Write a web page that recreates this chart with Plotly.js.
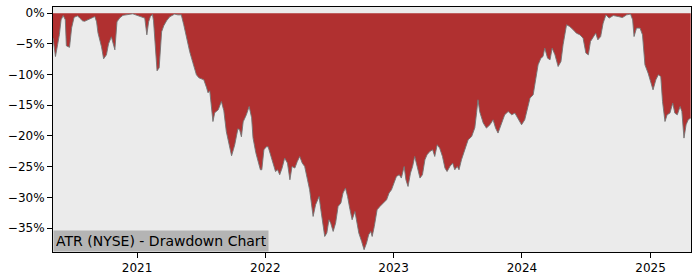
<!DOCTYPE html>
<html>
<head>
<meta charset="utf-8">
<script src="https://cdn.plot.ly/plotly-3.0.1.min.js"></script>
<style>html,body{margin:0;padding:0;background:#fff;}#chart{width:700px;height:280px;}</style>
</head>
<body>
<div id="chart"></div>
<script>
const dates = [
"2020-05-07","2020-05-14","2020-05-20","2020-05-25","2020-05-30","2020-06-05","2020-06-11","2020-06-14","2020-06-23","2020-06-29",
"2020-07-06","2020-07-16","2020-07-22","2020-07-30","2020-08-05","2020-08-14","2020-08-22","2020-09-03","2020-09-08","2020-09-12",
"2020-09-22","2020-09-28","2020-10-06","2020-10-12","2020-10-20","2020-10-24","2020-10-30","2020-11-05","2020-11-13","2020-11-22",
"2020-12-06","2020-12-20","2020-12-28","2021-01-09","2021-01-23","2021-01-29","2021-02-03","2021-02-08","2021-02-14","2021-02-17",
"2021-02-22","2021-02-27","2021-03-05","2021-03-08","2021-03-12","2021-03-18","2021-03-26","2021-04-04","2021-04-13","2021-04-18",
"2021-04-27","2021-05-07","2021-05-14","2021-05-20","2021-05-25","2021-05-31","2021-06-09","2021-06-14","2021-06-19","2021-06-26",
"2021-07-03","2021-07-10","2021-07-18","2021-07-22","2021-07-27","2021-08-01","2021-08-05","2021-08-10","2021-08-20","2021-08-29",
"2021-09-05","2021-09-12","2021-09-17","2021-09-21","2021-09-27","2021-10-02","2021-10-06","2021-10-15","2021-10-20","2021-10-25",
"2021-10-30","2021-11-08","2021-11-16","2021-11-23","2021-11-27","2021-12-05","2021-12-11","2021-12-18","2021-12-22","2021-12-28",
"2022-01-04","2022-01-09","2022-01-15","2022-01-23","2022-01-30","2022-02-05","2022-02-11","2022-02-18","2022-02-25","2022-03-05",
"2022-03-12","2022-03-18","2022-03-26","2022-04-02","2022-04-09","2022-04-16","2022-04-23","2022-05-01","2022-05-07","2022-05-12",
"2022-05-17","2022-05-24","2022-05-29","2022-06-03","2022-06-08","2022-06-14","2022-06-19","2022-06-25","2022-07-01","2022-07-06",
"2022-07-13","2022-07-20","2022-07-27","2022-08-04","2022-08-10","2022-08-17","2022-08-23","2022-08-29","2022-09-05","2022-09-13",
"2022-09-17","2022-09-24","2022-10-02","2022-10-09","2022-10-16","2022-10-22","2022-10-28","2022-11-01","2022-11-07","2022-11-15",
"2022-11-23","2022-12-02","2022-12-12","2022-12-19","2022-12-26","2023-01-02","2023-01-09","2023-01-17","2023-01-23","2023-01-31",
"2023-02-05","2023-02-11","2023-02-18","2023-02-24","2023-03-02","2023-03-09","2023-03-17","2023-03-24","2023-03-31","2023-04-06",
"2023-04-14","2023-04-22","2023-04-28","2023-05-05","2023-05-12","2023-05-20","2023-05-27","2023-06-02","2023-06-10","2023-06-18",
"2023-06-24","2023-07-01","2023-07-06","2023-07-13","2023-07-23","2023-08-01","2023-08-11","2023-08-20","2023-08-25","2023-08-29",
"2023-09-03","2023-09-08","2023-09-13","2023-09-22","2023-10-02","2023-10-11","2023-10-18","2023-10-25","2023-11-04","2023-11-13",
"2023-11-23","2023-12-03","2023-12-12","2023-12-21","2023-12-31","2024-01-09","2024-01-17","2024-01-24","2024-02-02","2024-02-09",
"2024-02-16","2024-02-24","2024-03-01","2024-03-06","2024-03-14","2024-03-21","2024-03-27","2024-04-04","2024-04-13","2024-04-21",
"2024-04-27","2024-05-07","2024-05-16","2024-05-26","2024-06-04","2024-06-14","2024-06-23","2024-07-01","2024-07-08","2024-07-14",
"2024-07-22","2024-07-29","2024-08-04","2024-08-12","2024-08-19","2024-08-27","2024-09-05","2024-09-17","2024-10-01","2024-10-13",
"2024-10-25","2024-11-05","2024-11-11","2024-11-15","2024-11-22","2024-12-02","2024-12-09","2024-12-16","2024-12-25","2025-01-01",
"2025-01-08","2025-01-16","2025-01-23","2025-01-30","2025-02-04","2025-02-11","2025-02-17","2025-02-25","2025-03-05","2025-03-11",
"2025-03-18","2025-03-26","2025-03-31","2025-04-06","2025-04-12","2025-04-18","2025-04-25"
];
const drawdownPct = [
-4.02,-7.07,-5.16,-3.53,-1.09,-0.39,-1.09,-5.32,-5.57,-2.39,
-0.68,-0.44,-0.81,-1.25,-1.33,-1.09,-0.85,-0.55,-1.42,-3.21,
-5.49,-7.44,-6.79,-5.00,-3.86,-4.67,-5.97,-1.42,-0.77,-0.36,
-0.20,-0.11,-0.28,-0.55,-0.81,-3.53,-1.42,-0.55,-0.20,-1.25,
-5.97,-9.39,-8.90,-5.97,-3.04,-2.07,-1.25,-0.60,-0.28,-0.16,
-0.28,-0.28,-1.90,-3.53,-5.16,-6.30,-8.09,-9.23,-10.04,-10.53,
-10.70,-10.86,-12.16,-12.97,-12.65,-14.93,-17.65,-16.23,-15.74,-14.39,
-15.90,-19.27,-20.63,-21.93,-23.23,-22.25,-21.44,-18.83,-19.00,-20.14,
-17.70,-16.56,-15.20,-17.04,-20.30,-22.74,-23.88,-25.51,-25.51,-22.25,
-21.76,-21.76,-22.90,-24.69,-25.79,-25.51,-26.32,-25.18,-23.60,-24.42,
-27.14,-24.97,-25.23,-24.16,-23.34,-24.42,-24.97,-27.14,-28.76,-30.93,
-33.11,-31.21,-30.39,-29.86,-32.02,-34.74,-36.37,-35.81,-33.65,-34.19,
-35.55,-34.19,-31.48,-30.93,-29.30,-28.49,-29.86,-31.74,-33.65,-32.30,
-33.65,-35.81,-37.18,-38.53,-37.44,-36.09,-35.55,-36.37,-34.74,-32.02,
-31.48,-30.93,-30.39,-29.30,-28.76,-27.67,-26.60,-26.32,-26.86,-24.97,
-27.14,-28.23,-26.05,-24.97,-23.34,-24.97,-26.86,-26.32,-23.88,-23.07,
-22.53,-22.25,-23.34,-21.44,-21.98,-23.34,-25.23,-25.79,-24.97,-24.42,
-25.51,-24.97,-25.51,-23.88,-22.25,-20.63,-20.09,-18.67,-16.23,-14.11,
-16.07,-17.09,-17.91,-18.72,-18.18,-17.37,-18.72,-19.53,-17.91,-16.56,
-16.02,-16.56,-16.28,-17.09,-18.18,-17.37,-15.46,-13.84,-13.30,-11.13,
-8.42,-7.33,-7.07,-5.70,-7.33,-7.60,-5.70,-6.79,-8.69,-7.88,
-5.16,-1.90,-2.18,-2.72,-3.26,-3.53,-4.07,-6.51,-6.79,-4.62,
-3.81,-3.26,-4.35,-3.81,-1.63,-0.28,-0.81,-0.39,-0.55,-0.72,
-0.28,-0.16,-1.09,-3.81,-2.44,-2.44,-3.53,-8.42,-9.77,-11.13,
-12.49,-10.86,-10.04,-10.32,-14.39,-17.65,-16.56,-16.28,-14.65,-16.28,
-16.56,-15.20,-16.02,-20.35,-18.18,-17.37,-17.09
];
const yearTicks = ["2021-01-01","2022-01-01","2023-01-01","2024-01-01","2025-01-01"];
const yearLabels = ["2021","2022","2023","2024","2025"];
const chartLabel = "ATR (NYSE) - Drawdown Chart";

const font = {family: "DejaVu Sans, sans-serif", size: 12, color: "#000"};
const trace = {
  x: dates, y: drawdownPct, type: "scatter", mode: "lines",
  fill: "tozeroy", fillcolor: "#b03030",
  line: {color: "rgba(115,115,115,0.9)", width: 1},
  hoverinfo: "skip"
};
const layout = {
  width: 700, height: 280,
  margin: {l: 53, r: 9, t: 7, b: 28, pad: 0},
  paper_bgcolor: "#ffffff", plot_bgcolor: "#ebebeb",
  showlegend: false,
  font: font,
  xaxis: {
    type: "date", range: ["2020-05-07", "2025-04-26"],
    tickmode: "array", tickvals: yearTicks, ticktext: yearLabels,
    ticks: "outside", ticklen: 5, tickcolor: "#000", tickwidth: 1,
    showline: true, mirror: true, linecolor: "#000", linewidth: 1,
    showgrid: false, zeroline: false, tickfont: font
  },
  yaxis: {
    range: [-38.9, 1.0], tick0: 0, dtick: 5, ticksuffix: "%",
    ticks: "outside", ticklen: 5, tickcolor: "#000", tickwidth: 1,
    showline: true, mirror: true, linecolor: "#000", linewidth: 1,
    showgrid: false, zeroline: false, tickfont: font
  },
  annotations: [{
    text: chartLabel, xref: "paper", yref: "paper", x: 0, y: 0,
    xanchor: "left", yanchor: "bottom", showarrow: false,
    bgcolor: "#b4b4b4", borderpad: 2, width: 210, height: 16, align: "left", valign: "middle",
    font: {family: "DejaVu Sans, sans-serif", size: 14, color: "#000"}
  }]
};
Plotly.newPlot("chart", [trace], layout, {staticPlot: true, displayModeBar: false});
</script>
</body>
</html>
